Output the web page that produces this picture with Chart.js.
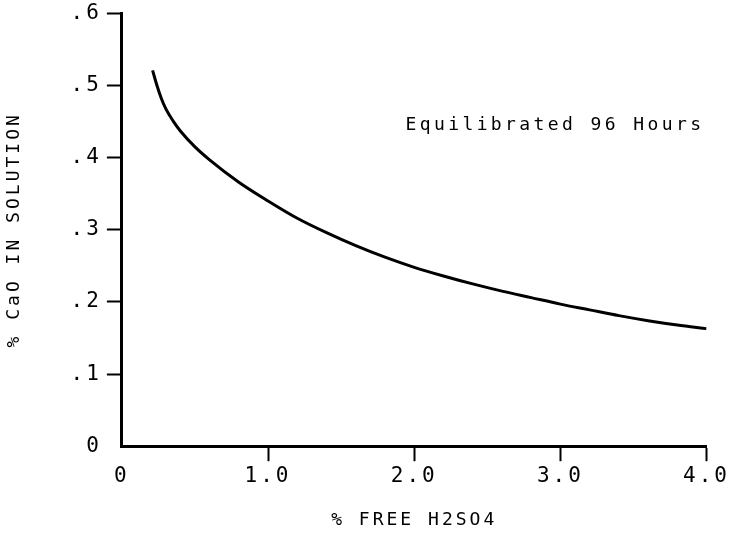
<!DOCTYPE html>
<html>
<head>
<meta charset="utf-8">
<script src="https://cdn.jsdelivr.net/npm/chart.js@4.4.1/dist/chart.umd.min.js"></script>
<style>
  html, body { margin: 0; padding: 0; background: #fff; }
  #wrap { width: 733px; height: 535px; }
</style>
</head>
<body>
<div id="wrap"><canvas id="chart" width="733" height="535"></canvas></div>
<script>
// % free H2SO4 vs % CaO in solution
const freeAcid = [0.21, 0.24, 0.27, 0.3, 0.35, 0.4, 0.5, 0.6, 0.8, 1.0, 1.2, 1.4, 1.6, 1.8, 2.0, 2.2, 2.4, 2.6, 2.8, 3.0, 3.2, 3.4, 3.6, 3.8, 4.0];
const caoPct   = [0.521, 0.500, 0.482, 0.468, 0.451, 0.437, 0.415, 0.397, 0.366, 0.340, 0.316, 0.296, 0.278, 0.262, 0.248, 0.236, 0.225, 0.215, 0.206, 0.197, 0.189, 0.181, 0.174, 0.168, 0.163];

const xTickLabels = ['0', '1.0', '2.0', '3.0', '4.0'];
const yTickLabels = ['0', '.1', '.2', '.3', '.4', '.5', '.6'];

const noteText = 'Equilibrated 96 Hours';
const noteAt = {x: 1.94, y: 0.445};

const mono = 'DejaVu Sans Mono';

// spaced-out typewriter lettering
const spacingPlugin = {
    id: 'spacing',
    beforeUpdate(chart) { chart.ctx.letterSpacing = '3px'; },
    beforeDraw(chart) { chart.ctx.letterSpacing = '3px'; }
};

const notePlugin = {
    id: 'note',
    afterDatasetsDraw(chart) {
        const {ctx, scales} = chart;
        ctx.save();
        ctx.letterSpacing = '3.4px';
        ctx.font = '18px "' + mono + '"';
        ctx.fillStyle = '#000';
        ctx.textAlign = 'left';
        ctx.textBaseline = 'middle';
        ctx.fillText(noteText, scales.x.getPixelForValue(noteAt.x), scales.y.getPixelForValue(noteAt.y));
        ctx.restore();
    }
};

const tickColor = function(c) {
    return c.tick && c.tick.value === 0 ? 'rgba(0,0,0,0)' : '#000';
};

new Chart(document.getElementById('chart').getContext('2d'), {
    type: 'line',
    data: {
        datasets: [{
            data: freeAcid.map((x, i) => ({x: x, y: caoPct[i]})),
            borderColor: '#000',
            borderWidth: 3,
            pointRadius: 0,
            cubicInterpolationMode: 'monotone',
            fill: false
        }]
    },
    options: {
        responsive: false,
        animation: false,
        events: [],
        layout: {padding: {top: 1, right: 5, bottom: 4, left: 0}},
        plugins: {
            legend: {display: false},
            tooltip: {enabled: false}
        },
        scales: {
            x: {
                type: 'linear',
                min: 0,
                max: 4,
                border: {display: true, color: '#000', width: 3},
                grid: {drawOnChartArea: false, tickLength: 15, tickWidth: 2, tickColor: tickColor},
                ticks: {
                    stepSize: 1,
                    color: '#000',
                    padding: 3,
                    maxRotation: 0,
                    font: {family: mono, size: 21},
                    callback: (v, i) => xTickLabels[i]
                },
                title: {
                    display: true,
                    text: '% FREE H2SO4',
                    color: '#000',
                    font: {family: mono, size: 18},
                    padding: {top: 17, bottom: 0}
                }
            },
            y: {
                min: 0,
                max: 0.6,
                border: {display: true, color: '#000', width: 3},
                grid: {drawOnChartArea: false, tickLength: 15, tickWidth: 2, tickColor: tickColor},
                ticks: {
                    stepSize: 0.1,
                    color: '#000',
                    padding: 5,
                    font: {family: mono, size: 21, lineHeight: 0.8},
                    callback: (v, i) => yTickLabels[i]
                },
                title: {
                    display: true,
                    text: '% CaO IN SOLUTION',
                    color: '#000',
                    font: {family: mono, size: 18},
                    padding: {top: 4, bottom: 40}
                }
            }
        }
    },
    plugins: [spacingPlugin, notePlugin]
});
</script>
</body>
</html>
